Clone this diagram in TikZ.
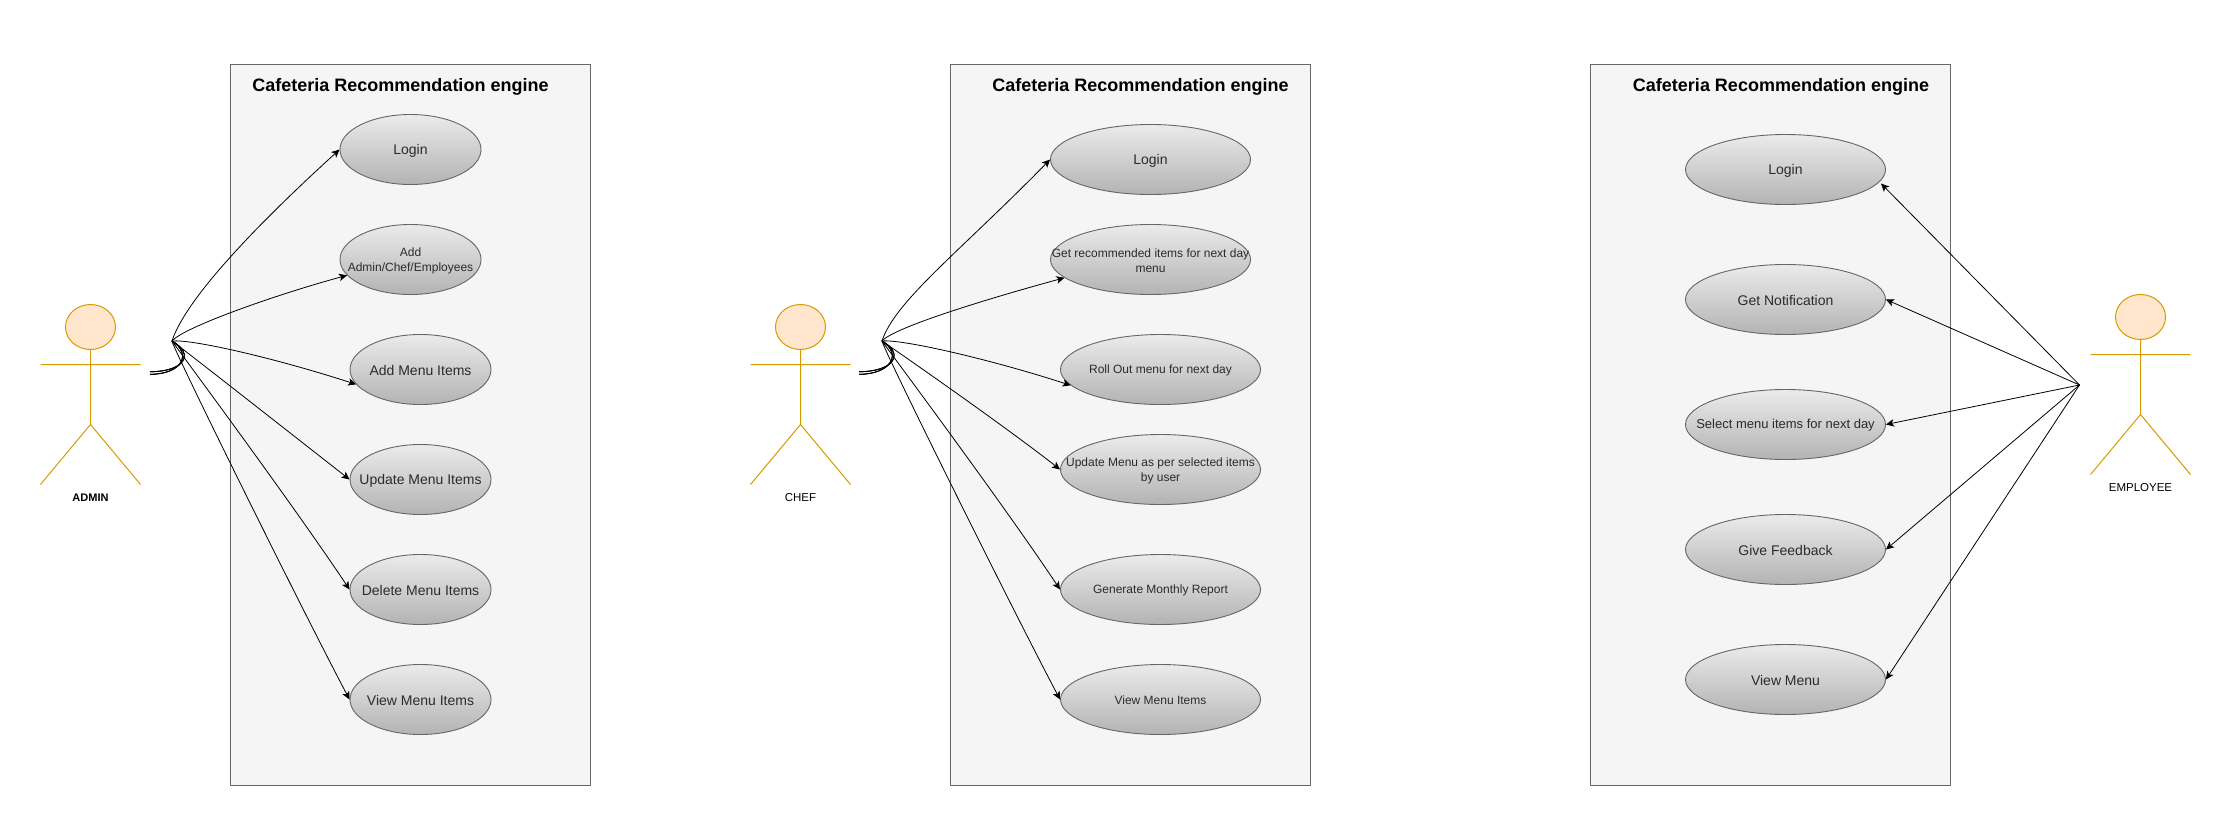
\documentclass[tikz,border=0pt]{standalone}
\usepackage{fontspec}
\setmainfont{Liberation Sans}
\usetikzlibrary{shapes.geometric,arrows.meta}
\definecolor{framefill}{HTML}{F5F5F5}
\definecolor{frameline}{HTML}{666666}
\definecolor{caselow}{HTML}{B3B3B3}
\definecolor{casehigh}{HTML}{EBEBEB}
\definecolor{casetxt}{HTML}{2B2B2B}
\definecolor{actline}{HTML}{D79B00}
\definecolor{actfill}{HTML}{FFE6CC}
\tikzset{
	framebox/.style={draw=frameline,fill=framefill,line width=.9pt},
	frametitle/.style={font=\bfseries\fontsize{18}{21}\selectfont,text=black,inner sep=0pt},
	usecase/.style={shape=ellipse,draw=frameline,top color=casehigh,bottom color=caselow,line width=.9pt,inner sep=0pt,minimum height=70pt},
	casebig/.style={font=\fontsize{14}{17}\selectfont,text=casetxt,inner sep=0pt,yshift=-1pt,align=center},
	casesmall/.style={font=\fontsize{12}{15}\selectfont,text=casetxt,inner sep=0pt,yshift=-1pt,align=center},
	casemid/.style={font=\fontsize{13}{16}\selectfont,text=casetxt,inner sep=0pt,yshift=-1pt,align=center},
	actorname/.style={font=\fontsize{11.5}{14}\selectfont,text=black,inner sep=0pt},
	link/.style={->,line width=.8pt,black},
	actor/.pic={
		\draw[actline,fill=actfill,line width=1pt] (0,22.5) ellipse [x radius=25,y radius=22.5];
		\draw[actline,line width=1pt] (0,45)--(0,120) (-50,60)--(50,60) (-50,180)--(0,120)--(50,180);
	}
}
\begin{document}
\begin{tikzpicture}[x=1pt,y=-1pt,line join=round,>={Stealth[length=8pt,width=7.5pt,inset=2pt]}]
	\useasboundingbox (0,0) rectangle (2232,825);
	% frames
	\foreach \name/\fx/\tx in {adminframe/230/400.5,chefframe/950/1140.5,empframe/1590/1781} {
		\node[framebox,minimum width=360pt,minimum height=721pt,inner sep=0pt] (\name) at (\fx+180,424.5) {};
		\node[frametitle] (\name title) at (\tx,87) {Cafeteria Recommendation engine};
	}
	% use cases
	\foreach \name/\cx/\cy/\rw/\txtstyle/\txt in {
		a1/410.5/149.5/141/casebig/Login,
		a2/410.5/259.5/141/casesmall/{Add\\Admin/Chef/Employees},
		a3/420.5/369.5/141/casebig/Add Menu Items,
		a4/420.5/479.5/141/casebig/Update Menu Items,
		a5/420.5/589.5/141/casebig/Delete Menu Items,
		a6/420.5/699.5/141/casebig/View Menu Items,
		c1/1150.5/159.5/200/casebig/Login,
		c2/1150.5/259.5/200/casesmall/{Get recommended items for next day\\menu},
		c3/1160.5/369.5/200/casesmall/Roll Out menu for next day,
		c4/1160.5/469.5/200/casesmall/{Update Menu as per selected items\\by user},
		c5/1160.5/589.5/200/casesmall/Generate Monthly Report,
		c6/1160.5/699.5/200/casesmall/View Menu Items,
		e1/1785.5/169.5/200/casebig/Login,
		e2/1785.5/299.5/200/casebig/Get Notification,
		e3/1785.5/424.5/200/casemid/Select menu items for next day,
		e4/1785.5/549.5/200/casebig/Give Feedback,
		e5/1785.5/679.5/200/casebig/View Menu} {
		\node[usecase,minimum width=\rw pt,label={[\txtstyle]center:\txt}] (\name) at (\cx,\cy) {};
	}
	% actors
	\pic at (90.5,304.5) {actor};
	\pic at (800.5,304.5) {actor};
	\pic at (2140.5,294.5) {actor};
	\node[actorname,font=\bfseries\fontsize{11}{14}\selectfont] (adminname) at (90.5,498) {ADMIN};
	\node[actorname] (chefname) at (800.5,498) {CHEF};
	\node[actorname] (empname) at (2140.5,488) {EMPLOYEE};
	\coordinate (adminout) at (150,373);
	\coordinate (adminhub) at (172,341);
	\coordinate (chefout) at (859,373);
	\coordinate (chefhub) at (882,341);
	\coordinate (emphub) at (2079.5,385);
	\coordinate (e1tip) at (1881,183.5);
	% links
	\foreach \goal/\sx/\sy/\ex/\ey/\dd in {
		a1.west/13/-40/-90/82/-1.3,
		a2.194/12/-14/-70/19/-1.3,
		a3.193.5/20/-2/-80/-26/-1.3,
		a4.west/6/4/-60/-47/1.3,
		a5.west/4/6/-60/-90/1.3,
		a6.west/2/10/-45/-85/1.3} {
		\draw[link] ([yshift=\dd pt]adminout) .. controls +(33+\dd,0) and +(22+\dd,13) .. (adminhub) .. controls +(\sx,\sy) and +(\ex,\ey) .. (\goal);
	}
	\foreach \goal/\sx/\sy/\ex/\ey/\dd in {
		c1.west/13/-40/-90/92/-1.3,
		c2.192.7/12/-14/-70/19/-1.3,
		c3.190/20/-2/-80/-26/-1.3,
		c4.west/6/4/-60/-47/1.3,
		c5.west/4/6/-60/-90/1.3,
		c6.west/2/10/-45/-85/1.3} {
		\draw[link] ([yshift=\dd pt]chefout) .. controls +(33+\dd,0) and +(22+\dd,13) .. (chefhub) .. controls +(\sx,\sy) and +(\ex,\ey) .. (\goal);
	}
	\foreach \goal in {e1tip,e2.east,e3.east,e4.east,e5.east}
		\draw[link] (emphub) -- (\goal);
\end{tikzpicture}
\end{document}
